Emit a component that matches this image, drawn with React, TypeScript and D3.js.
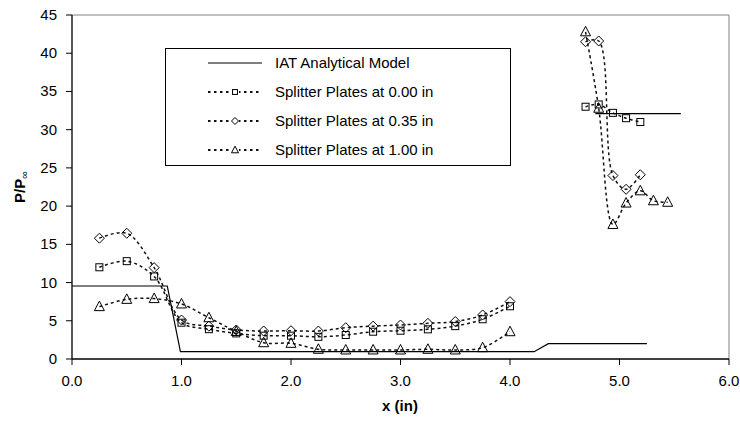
import React from "react";
import * as d3 from "d3";

const xTicks = [0, 1, 2, 3, 4, 5, 6];
const yTicks = [0, 5, 10, 15, 20, 25, 30, 35, 40, 45];

// IAT analytical model (null = gap)
const iatX = [0, 0.87, 0.99, 4.22, 4.35, 5.25, null, 4.78, 5.56];
const iatY = [9.55, 9.55, 0.96, 0.96, 2.0, 2.0, null, 32.1, 32.1];

const xLeft = [0.25, 0.5, 0.75, 1.0, 1.25, 1.5, 1.75, 2.0, 2.25, 2.5, 2.75, 3.0, 3.25, 3.5, 3.75, 4.0];
const xRight = [4.69, 4.81, 4.94, 5.06, 5.19, 5.31, 5.44];

const s000Left = [12.0, 12.8, 10.8, 4.75, 3.9, 3.35, 3.05, 3.05, 2.9, 3.14, 3.57, 3.7, 3.88, 4.3, 5.2, 6.9];
const s000Right = [33.0, 33.3, 32.2, 31.5, 31.0];
const s035Left = [15.8, 16.45, 11.95, 5.1, 4.3, 3.8, 3.66, 3.7, 3.66, 4.1, 4.3, 4.45, 4.67, 4.9, 5.76, 7.5];
const s035Right = [41.5, 41.6, 24.0, 22.2, 24.1];
const s100Left = [6.85, 7.8, 7.9, 7.2, 5.4, 3.6, 2.13, 2.05, 1.27, 1.18, 1.18, 1.18, 1.27, 1.18, 1.48, 3.57];
const s100Right = [42.8, 32.8, 17.6, 20.4, 22.0, 20.7, 20.5];

const legendLabels = [
  "IAT Analytical Model",
  "Splitter Plates at 0.00 in",
  "Splitter Plates at 0.35 in",
  "Splitter Plates at 1.00 in",
];

const W = 740;
const H = 425;
const x = d3.scaleLinear().domain([0, 6]).range([72, 729]);
const y = d3.scaleLinear().domain([0, 45]).range([359, 15]);

type Pt = [number, number];
const zip = (xs: number[], ys: number[]): Pt[] => ys.map((v, i) => [xs[i], v]);

const smooth = d3
  .line<Pt>()
  .x((d) => x(d[0]))
  .y((d) => y(d[1]))
  .curve(d3.curveCatmullRom.alpha(0.5));

const straight = d3
  .line<any>()
  .defined((d) => d[0] !== null)
  .x((d) => x(d[0]))
  .y((d) => y(d[1]));

const FONT = "'Liberation Sans', Arial, sans-serif";

function Marker({ kind, cx, cy, s = 1 }: { kind: string; cx: number; cy: number; s?: number }) {
  const st = { fill: "none", stroke: "#000", strokeWidth: 1 };
  if (kind === "square") return <rect x={cx - 3.5 * s} y={cy - 3.5 * s} width={7 * s} height={7 * s} {...st} />;
  if (kind === "diamond")
    return <path d={`M${cx},${cy - 5 * s}L${cx + 5 * s},${cy}L${cx},${cy + 5 * s}L${cx - 5 * s},${cy}Z`} {...st} />;
  return <path d={`M${cx},${cy - 5.5 * s}L${cx + 5 * s},${cy + 4 * s}L${cx - 5 * s},${cy + 4 * s}Z`} {...st} />;
}

const series = [
  { kind: "square", parts: [zip(xLeft, s000Left), zip(xRight, s000Right)] },
  { kind: "diamond", parts: [zip(xLeft, s035Left), zip(xRight, s035Right)] },
  { kind: "triangle", parts: [zip(xLeft, s100Left), zip(xRight, s100Right)] },
];

export default function App() {
  const iat = iatX.map((v, i) => [v, iatY[i]]);
  return (
    <svg width={W} height={H} style={{ position: "absolute", left: 0, top: 0, background: "#fff" }} fontFamily={FONT}>
      {/* plot frame */}
      <line x1={x(0)} x2={x(6)} y1={y(45)} y2={y(45)} stroke="#808080" strokeWidth={1} />
      <line x1={x(6)} x2={x(6)} y1={y(45)} y2={y(0)} stroke="#808080" strokeWidth={1} />

      {/* series lines */}
      {series.map((s, si) =>
        s.parts.map((p, pi) => (
          <path key={`l${si}-${pi}`} d={smooth(p) || ""} fill="none" stroke="#111" strokeWidth={1.5} strokeDasharray="3,3" />
        ))
      )}
      {/* analytical */}
      <path d={straight(iat) || ""} fill="none" stroke="#000" strokeWidth={1.2} />

      {/* markers */}
      {series.map((s, si) =>
        s.parts.flat().map((d, i) => <Marker key={`m${si}-${i}`} kind={s.kind} cx={x(d[0])} cy={y(d[1])} />)
      )}

      {/* axes */}
      <line x1={x(0)} x2={x(0)} y1={y(45)} y2={y(0)} stroke="#000" strokeWidth={1.3} />
      <line x1={x(0)} x2={x(6)} y1={y(0)} y2={y(0)} stroke="#000" strokeWidth={1.3} />
      {yTicks.map((t) => (
        <g key={`yt${t}`}>
          <line x1={x(0) - 6} x2={x(0)} y1={y(t)} y2={y(t)} stroke="#000" />
          <text x={57} y={y(t) + 5} textAnchor="end" fontSize={15}>
            {t}
          </text>
        </g>
      ))}
      {xTicks.map((t) => (
        <g key={`xt${t}`}>
          <line x1={x(t)} x2={x(t)} y1={y(0)} y2={y(0) + 6} stroke="#000" />
          <text x={x(t)} y={386} textAnchor="middle" fontSize={15}>
            {t.toFixed(1)}
          </text>
        </g>
      ))}

      {/* axis titles */}
      <text x={400} y={411} textAnchor="middle" fontSize={15} fontWeight="bold">
        x (in)
      </text>
      <text transform="translate(25,187) rotate(-90)" textAnchor="middle" fontSize={15} fontWeight="bold">
        P/P<tspan fontWeight="normal" fontSize={11} dy={3}>∞</tspan>
      </text>

      {/* legend */}
      <rect x={165.5} y={48.5} width={345} height={117} fill="#fff" stroke="#000" strokeWidth={1} />
      {legendLabels.map((lab, i) => {
        const ly = 63 + i * 29;
        return (
          <g key={`lg${i}`}>
            {i === 0 ? (
              <line x1={208} x2={262} y1={ly} y2={ly} stroke="#000" strokeWidth={1.2} />
            ) : (
              <>
                <line x1={208} x2={262} y1={ly} y2={ly} stroke="#111" strokeWidth={1.8} strokeDasharray="2.5,3.5" />
                <rect x={231} y={ly - 4} width={8} height={8} fill="#fff" />
                <Marker kind={series[i - 1].kind} cx={235} cy={ly} s={0.7} />
              </>
            )}
            <text x={275} y={ly + 5} fontSize={15}>
              {lab}
            </text>
          </g>
        );
      })}
    </svg>
  );
}
